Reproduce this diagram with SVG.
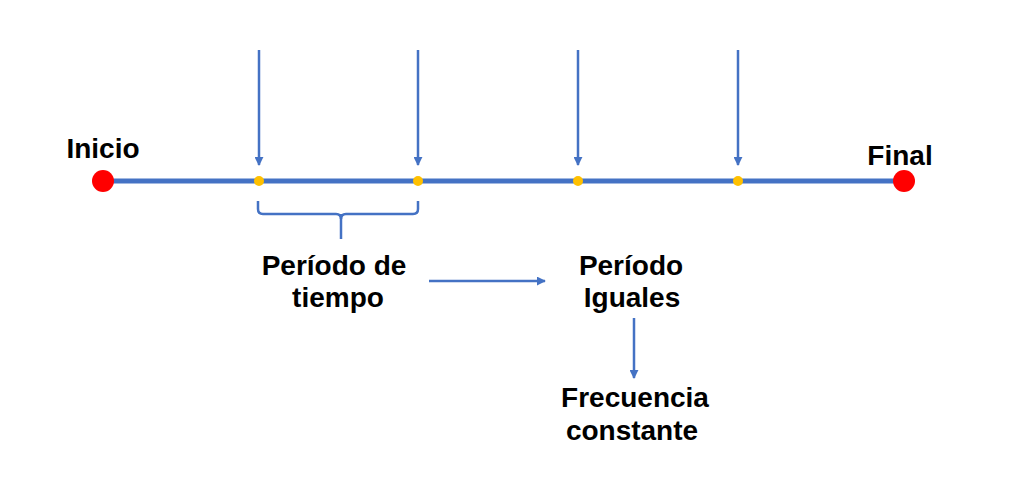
<svg xmlns="http://www.w3.org/2000/svg" width="1018" height="480" viewBox="0 0 1018 480">
<style>
  text { font-family: "Liberation Sans", Arial, sans-serif; font-weight: bold; font-size: 28px; fill: #000; }
  .ln { stroke: #4472C4; fill: none; }
</style>
<defs>
  <marker id="ah" viewBox="0 0 10 10" refX="9" refY="5" markerWidth="3.6" markerHeight="3.6" orient="auto" markerUnits="strokeWidth">
    <path d="M0,0 L10,5 L0,10 z" fill="#4472C4"/>
  </marker>
</defs>
<rect width="1018" height="480" fill="#fff"/>
<g id="timeline">
  <line class="ln" x1="103" y1="181" x2="904" y2="181" stroke-width="5"/>
</g>
<g id="connectors">
  <line class="ln" x1="259" y1="50" x2="259" y2="165" stroke-width="2.5" marker-end="url(#ah)"/>
  <line class="ln" x1="418" y1="50" x2="418" y2="165" stroke-width="2.5" marker-end="url(#ah)"/>
  <line class="ln" x1="578" y1="50" x2="578" y2="165" stroke-width="2.5" marker-end="url(#ah)"/>
  <line class="ln" x1="738" y1="50" x2="738" y2="165" stroke-width="2.5" marker-end="url(#ah)"/>
  <path class="ln" stroke-width="2.5" d="M258,201 V209 Q258,214 263,214 H336 Q341,214 341,219 Q341,214 346,214 H413 Q418,214 418,209 V201"/>
  <line class="ln" x1="341" y1="214" x2="341" y2="239" stroke-width="2.5"/>
  <line class="ln" x1="429" y1="281" x2="545" y2="281" stroke-width="2.5" marker-end="url(#ah)"/>
  <line class="ln" x1="634" y1="318" x2="634" y2="378" stroke-width="2.5" marker-end="url(#ah)"/>
</g>
<g id="inicio">
  <circle cx="103" cy="181" r="11" fill="#FF0000"/>
  <text x="103" y="158" text-anchor="middle">Inicio</text>
</g>
<g id="final">
  <circle cx="904" cy="181" r="11" fill="#FF0000"/>
  <text x="900" y="165" text-anchor="middle">Final</text>
</g>
<g id="marks">
  <circle cx="259" cy="181" r="5" fill="#FFC000"/>
  <circle cx="418" cy="181" r="5" fill="#FFC000"/>
  <circle cx="578" cy="181" r="5" fill="#FFC000"/>
  <circle cx="738" cy="181" r="5" fill="#FFC000"/>
</g>
<g id="periodo-tiempo">
  <text x="334" y="275" text-anchor="middle">Período de</text>
  <text x="338" y="307" text-anchor="middle">tiempo</text>
</g>
<g id="periodo-iguales">
  <text x="631" y="275" text-anchor="middle">Período</text>
  <text x="632" y="307" text-anchor="middle">Iguales</text>
</g>
<g id="frecuencia">
  <text x="635" y="407" text-anchor="middle">Frecuencia</text>
  <text x="632" y="440" text-anchor="middle">constante</text>
</g>
</svg>
